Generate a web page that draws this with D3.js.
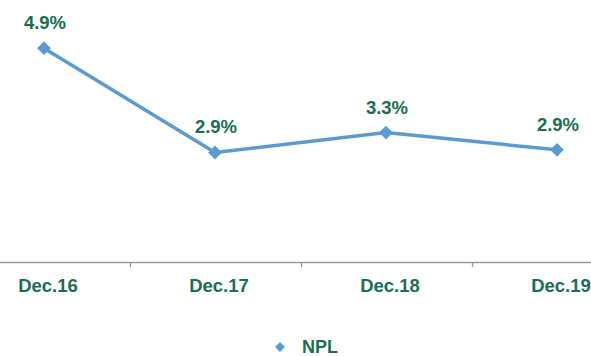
<!DOCTYPE html>
<html>
<head>
<meta charset="utf-8">
<script src="https://cdn.jsdelivr.net/npm/d3@7"></script>
<style>
  html, body { margin: 0; padding: 0; background: #fff; }
  svg { display: block; font-family: "Liberation Sans", Arial, sans-serif; }
</style>
</head>
<body>
<svg id="chart" width="591" height="356"></svg>
<script>
// Non-performing loan ratio, year-end
const categories = ["Dec.16", "Dec.17", "Dec.18", "Dec.19"];
const nplValues = [4.88, 2.89, 3.27, 2.94];
const seriesName = "NPL";

const W = 591, H = 356;
const green = "#17704f";
const blue = "#5b9bd5";

const svg = d3.select("#chart");

const x = d3.scaleBand()
  .domain(categories)
  .range([-41.5, 642.5])
  .paddingInner(0)
  .paddingOuter(0);

const plotBottom = 262;
const y = d3.scaleLinear()
  .domain([0.8, 5.8])
  .range([plotBottom, 0]);

const cx = d => x(d) + x.bandwidth() / 2;

// Category axis: baseline with ticks at band boundaries
svg.append("line")
  .attr("x1", 0).attr("x2", W)
  .attr("y1", plotBottom + 0.5).attr("y2", plotBottom + 0.5)
  .attr("stroke", "#9a9a9a").attr("stroke-width", 1.3);

svg.selectAll("line.tick")
  .data(categories.slice(1))
  .join("line")
  .attr("class", "tick")
  .attr("x1", d => Math.round(x(d)) + 0.5)
  .attr("x2", d => Math.round(x(d)) + 0.5)
  .attr("y1", plotBottom)
  .attr("y2", plotBottom + 5)
  .attr("stroke", "#9a9a9a").attr("stroke-width", 1.3);

svg.selectAll("text.cat")
  .data(categories)
  .join("text")
  .attr("class", "cat")
  .attr("x", d => cx(d) + 4)
  .attr("y", 292)
  .attr("text-anchor", "middle")
  .attr("fill", green)
  .attr("font-weight", "bold")
  .attr("font-size", 18.5)
  .text(d => d);

// Series line
const pts = categories.map((c, i) => ({ c, v: nplValues[i] }));

svg.append("path")
  .datum(pts)
  .attr("fill", "none")
  .attr("stroke", blue)
  .attr("stroke-width", 3.5)
  .attr("stroke-linejoin", "round")
  .attr("d", d3.line().x(d => cx(d.c)).y(d => y(d.v)));

// Diamond markers (rotated squares)
svg.selectAll("path.marker")
  .data(pts)
  .join("path")
  .attr("class", "marker")
  .attr("d", d3.symbol().type(d3.symbolSquare).size(95)())
  .attr("transform", d => `translate(${cx(d.c)},${y(d.v)}) rotate(45)`)
  .attr("fill", blue);

// Value labels
svg.selectAll("text.val")
  .data(pts)
  .join("text")
  .attr("class", "val")
  .attr("x", d => cx(d.c) + 1)
  .attr("y", d => y(d.v) - 19)
  .attr("text-anchor", "middle")
  .attr("fill", green)
  .attr("font-weight", "bold")
  .attr("font-size", 18.5)
  .text(d => d3.format(".1f")(d.v) + "%");

// Legend
const legend = svg.append("g").attr("transform", "translate(280,347)");
legend.append("path")
  .attr("d", d3.symbol().type(d3.symbolSquare).size(50)())
  .attr("transform", "rotate(45)")
  .attr("fill", blue);
legend.append("text")
  .attr("x", 22)
  .attr("y", 6)
  .attr("fill", green)
  .attr("font-weight", "bold")
  .attr("font-size", 18)
  .text(seriesName);
</script>
</body>
</html>
